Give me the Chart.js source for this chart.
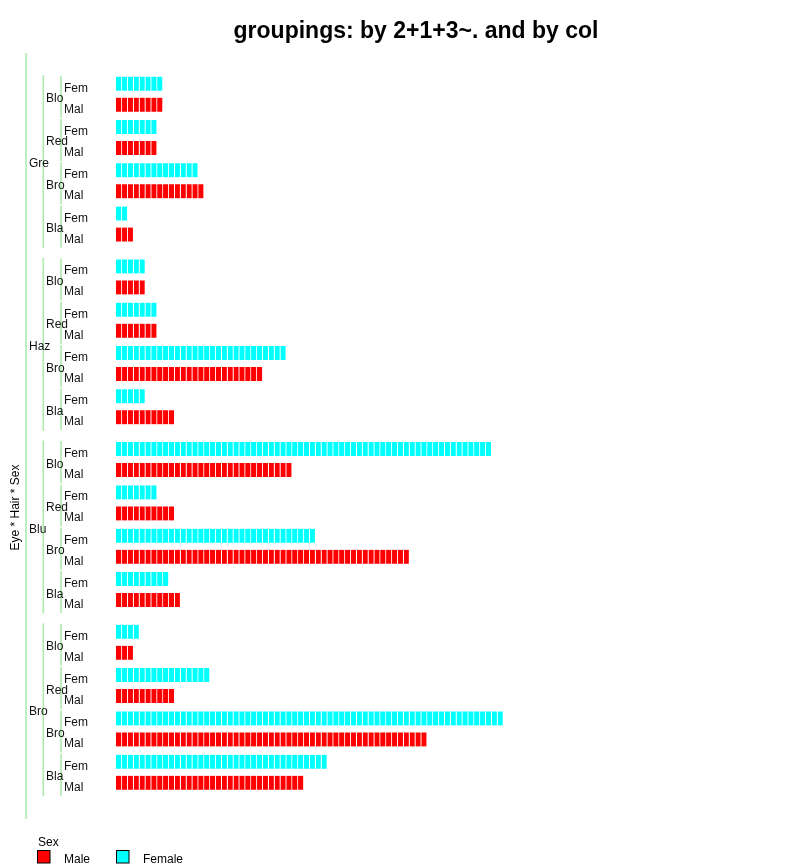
<!DOCTYPE html>
<html>
<head>
<meta charset="utf-8">
<script src="https://cdn.jsdelivr.net/npm/chart.js@4.4.1/dist/chart.umd.min.js"></script>
<style>
  html, body { margin: 0; padding: 0; background: #fff; }
  canvas { display: block; }
</style>
</head>
<body>
<canvas id="unitChart" width="805" height="867"></canvas>
<script>
// Eye, Hair, Sex levels in top-to-bottom drawing order
const eyeLabels = ['Gre', 'Haz', 'Blu', 'Bro'];
const hairLabels = ['Blo', 'Red', 'Bro', 'Bla'];
const sexLabels = ['Fem', 'Mal'];

// counts per hair level (Blo, Red, Bro, Bla) for each eye colour
const greenFemale = [8, 7, 14, 2];
const greenMale = [8, 7, 15, 3];
const hazelFemale = [5, 7, 29, 5];
const hazelMale = [5, 7, 25, 10];
const blueFemale = [64, 7, 34, 9];
const blueMale = [30, 10, 50, 11];
const brownFemale = [4, 16, 66, 36];
const brownMale = [3, 10, 53, 32];

const femaleByEye = [greenFemale, hazelFemale, blueFemale, brownFemale];
const maleByEye = [greenMale, hazelMale, blueMale, brownMale];

const maleColor = '#ff0000';
const femaleColor = '#00ffff';
const groupLine = '#aee9ae';
const FONT = '"Liberation Sans", Arial, sans-serif';

// extra spacing (in row units) between hair blocks and eye blocks
const HAIR_GAP = 0.062;
const EYE_GAP = 0.452;

// flatten into rows
const rows = [];
eyeLabels.forEach((eye, e) => {
    hairLabels.forEach((hair, h) => {
        sexLabels.forEach((sex, s) => {
            const r = e * 8 + h * 2 + s;
            const count = s === 0 ? femaleByEye[e][h] : maleByEye[e][h];
            rows.push({
                eye: e, hair: h, sex: s, count: count,
                pos: r + (e * 4 + h) * HAIR_GAP + e * EYE_GAP
            });
        });
    });
});

const maxCount = Math.max(...rows.map(r => r.count));
const rowColors = rows.map(r => r.sex === 0 ? femaleColor : maleColor);

// one stacked dataset per unit: each bar is a strip of unit cells
const datasets = [];
for (let i = 0; i < maxCount; i++) {
    datasets.push({
        data: rows.map(r => ({ x: r.count > i ? 1 : null, y: r.pos })),
        backgroundColor: rowColors,
        borderColor: '#ffffff',
        borderWidth: { top: 0, bottom: 0, left: 0, right: 1 },
        borderSkipped: false,
        barThickness: 14
    });
}

const decorations = {
    id: 'decorations',
    afterDraw(chart) {
        const c = chart.ctx;
        const y = chart.scales.y;
        const area = chart.chartArea;
        const px = v => y.getPixelForValue(v);

        c.save();

        // title
        c.fillStyle = '#000';
        c.font = 'bold 23px ' + FONT;
        c.textAlign = 'center';
        c.textBaseline = 'alphabetic';
        c.fillText('groupings: by 2+1+3~. and by col', 416, 37.5);

        // axis title
        c.font = '12px ' + FONT;
        c.save();
        c.translate(19, 507.5);
        c.rotate(-Math.PI / 2);
        c.fillText('Eye * Hair * Sex', 0, 0);
        c.restore();

        // grouping brackets
        c.strokeStyle = groupLine;
        c.lineWidth = 1.6;
        const vline = (x, y0, y1) => {
            c.beginPath();
            c.moveTo(x, y0);
            c.lineTo(x, y1);
            c.stroke();
        };
        vline(26, area.top - 1, area.bottom);

        c.textAlign = 'left';
        c.fillStyle = '#111';
        eyeLabels.forEach((eye, e) => {
            const eyeRows = rows.filter(r => r.eye === e);
            const top = px(eyeRows[0].pos);
            const bottom = px(eyeRows[eyeRows.length - 1].pos);
            vline(43.3, top - 8.5, bottom + 13.5);
            c.fillText(eye, 29, (top + bottom) / 2 + 8);

            hairLabels.forEach((hair, h) => {
                const pair = eyeRows.filter(r => r.hair === h);
                const t = px(pair[0].pos);
                const b = px(pair[1].pos);
                vline(61, t - 8, b + 13);
                c.fillText(hair, 46, (t + b) / 2 + 8);
                pair.forEach(r => c.fillText(sexLabels[r.sex], 64, px(r.pos) + 8));
            });
        });

        // legend
        c.fillStyle = '#000';
        c.fillText('Sex', 38, 846);
        const legendItems = [
            { text: 'Male', color: maleColor, box: 37.5, label: 64 },
            { text: 'Female', color: femaleColor, box: 116.5, label: 143 }
        ];
        c.lineWidth = 1;
        c.strokeStyle = '#000';
        legendItems.forEach(item => {
            c.fillStyle = item.color;
            c.fillRect(item.box, 850.5, 12.5, 12.5);
            c.strokeRect(item.box, 850.5, 12.5, 12.5);
            c.fillStyle = '#000';
            c.fillText(item.text, item.label, 863);
        });

        c.restore();
    }
};

new Chart(document.getElementById('unitChart'), {
    type: 'bar',
    data: { datasets: datasets },
    options: {
        indexAxis: 'y',
        responsive: false,
        animation: false,
        layout: { padding: { top: 54, bottom: 48, left: 116, right: 14 } },
        scales: {
            x: { type: 'linear', stacked: true, min: 0, max: 115, display: false },
            y: {
                type: 'linear', stacked: true, reverse: true, offset: false,
                min: -1.414, max: 35.014, display: false
            }
        },
        plugins: {
            legend: { display: false },
            tooltip: { enabled: false }
        }
    },
    plugins: [decorations]
});
</script>
</body>
</html>
